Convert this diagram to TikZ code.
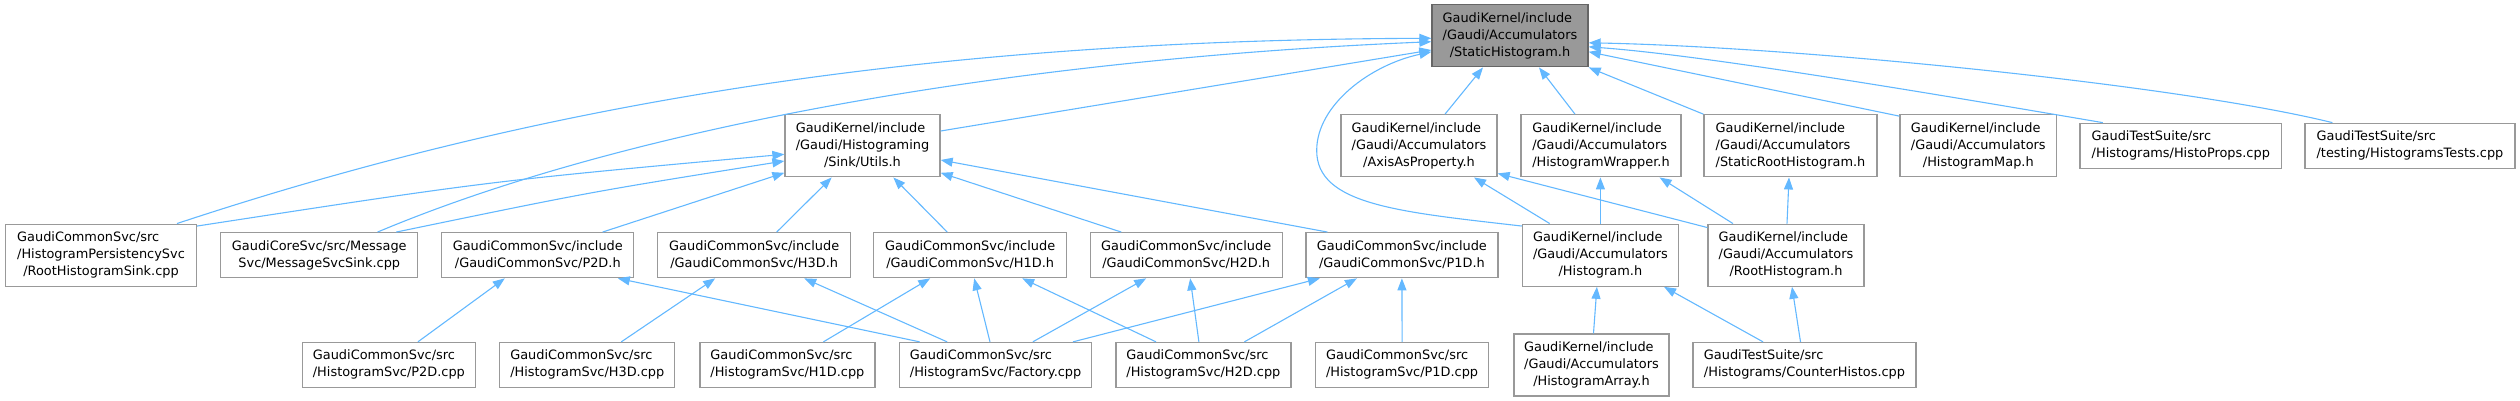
\documentclass[tikz,border=0pt]{standalone}
\usepackage{fontspec}
\newfontfamily\dv{DejaVu Sans}
\usetikzlibrary{arrows.meta,calc}
\definecolor{edgeblue}{HTML}{63B8FF}
\definecolor{boxborder}{HTML}{999999}
\definecolor{rootfill}{HTML}{999999}
\definecolor{rootborder}{HTML}{666666}
\newcommand{\lb}[2]{\begin{tabular}{@{}l@{}}#1\\\multicolumn{1}{@{}c@{}}{#2}\end{tabular}}
\tikzset{
  box/.style={draw=boxborder, fill=white, line width=1.3pt, inner sep=0pt,
    font=\dv\fontsize{12.9}{17}\selectfont},
  three/.style={box, minimum height=62pt},
  two/.style={box, minimum height=45pt},
  rootbox/.style={three, fill=rootfill, draw=rootborder},
  edge/.style={draw=edgeblue, line width=1.1pt, -{Triangle[length=12pt,width=9pt]}}
}
\begin{document}
\begin{tikzpicture}[x=1pt,y=-1pt]
\useasboundingbox (0,0) rectangle (2520,401);
% row 1
\node[rootbox, minimum width=156pt] (SH) at (1510,35.8) {\lb{GaudiKernel/include\\/Gaudi/Accumulators}{/StaticHistogram.h}};
% row 2
\node[three, minimum width=155pt] (Utils) at (862.5,145.8) {\lb{GaudiKernel/include\\/Gaudi/Histograming}{/Sink/Utils.h}};
\node[three, minimum width=156pt] (Axis) at (1419,145.8) {\lb{GaudiKernel/include\\/Gaudi/Accumulators}{/AxisAsProperty.h}};
\node[three, minimum width=160pt] (Wrapper) at (1601,145.8) {\lb{GaudiKernel/include\\/Gaudi/Accumulators}{/HistogramWrapper.h}};
\node[three, minimum width=173pt] (SRoot) at (1790.5,145.8) {\lb{GaudiKernel/include\\/Gaudi/Accumulators}{/StaticRootHistogram.h}};
\node[three, minimum width=156.5pt] (Map) at (1978.3,145.8) {\lb{GaudiKernel/include\\/Gaudi/Accumulators}{/HistogramMap.h}};
\node[two, minimum width=201.5pt] (Props) at (2180.8,145.8) {\lb{GaudiTestSuite/src}{/Histograms/HistoProps.cpp}};
\node[two, minimum width=210pt] (Tests) at (2410,145.8) {\lb{GaudiTestSuite/src}{/testing/HistogramsTests.cpp}};
% row 3
\node[three, minimum width=191pt] (RSink) at (101,255.2) {\lb{GaudiCommonSvc/src\\/HistogramPersistencySvc}{/RootHistogramSink.cpp}};
\node[two, minimum width=197pt] (MSink) at (319.3,255.2) {\lb{GaudiCoreSvc/src/Message}{Svc/MessageSvcSink.cpp}};
\node[two, minimum width=192pt] (P2Dh) at (537.8,255.2) {\lb{GaudiCommonSvc/include}{/GaudiCommonSvc/P2D.h}};
\node[two, minimum width=193pt] (H3Dh) at (754.2,255.2) {\lb{GaudiCommonSvc/include}{/GaudiCommonSvc/H3D.h}};
\node[two, minimum width=193pt] (H1Dh) at (970.2,255.2) {\lb{GaudiCommonSvc/include}{/GaudiCommonSvc/H1D.h}};
\node[two, minimum width=192pt] (H2Dh) at (1186.2,255.2) {\lb{GaudiCommonSvc/include}{/GaudiCommonSvc/H2D.h}};
\node[two, minimum width=192pt] (P1Dh) at (1401.9,255.2) {\lb{GaudiCommonSvc/include}{/GaudiCommonSvc/P1D.h}};
\node[three, minimum width=156pt] (Hist) at (1600.4,255.2) {\lb{GaudiKernel/include\\/Gaudi/Accumulators}{/Histogram.h}};
\node[three, minimum width=156pt] (RHist) at (1786,255.2) {\lb{GaudiKernel/include\\/Gaudi/Accumulators}{/RootHistogram.h}};
% row 4
\node[two, minimum width=172.5pt] (P2Dc) at (388.9,365) {\lb{GaudiCommonSvc/src}{/HistogramSvc/P2D.cpp}};
\node[two, minimum width=175pt] (H3Dc) at (587.3,365) {\lb{GaudiCommonSvc/src}{/HistogramSvc/H3D.cpp}};
\node[two, minimum width=175pt] (H1Dc) at (787.4,365) {\lb{GaudiCommonSvc/src}{/HistogramSvc/H1D.cpp}};
\node[two, minimum width=192pt] (Fact) at (995.6,365) {\lb{GaudiCommonSvc/src}{/HistogramSvc/Factory.cpp}};
\node[two, minimum width=175pt] (H2Dc) at (1203.4,365) {\lb{GaudiCommonSvc/src}{/HistogramSvc/H2D.cpp}};
\node[two, minimum width=173pt] (P1Dc) at (1402.1,365) {\lb{GaudiCommonSvc/src}{/HistogramSvc/P1D.cpp}};
\node[three, minimum width=155pt] (Arr) at (1591.5,365) {\lb{GaudiKernel/include\\/Gaudi/Accumulators}{/HistogramArray.h}};
\node[two, minimum width=223pt] (Counter) at (1804.5,365) {\lb{GaudiTestSuite/src}{/Histograms/CounterHistos.cpp}};

% edges to StaticHistogram.h
\draw[edge] ($(RSink.north)+(76,0)$) .. controls (520,110) and (900,40) .. ($(SH.west)+(0,2.5)$);
\draw[edge] ($(MSink.north)+(58.3,0)$) .. controls (620,130) and (1000,60) .. ($(SH.west)+(0,5.9)$);
\draw[edge] ($(Utils.east)+(0,-14.8)$) -- ($(SH.west)+(0,14.2)$);
\draw[edge] ($(Hist.north west)+(0,2.5)$) .. controls (1400,212) and (1316,205) .. (1316.7,150) .. controls (1317,105) and (1370,65) .. ($(SH.west)+(0,16)$);
\draw[edge] ($(Axis.north)+(26,0)$) -- ($(SH.south)+(-27,0)$);
\draw[edge] ($(Wrapper.north)+(-26,0)$) -- ($(SH.south)+(29,0)$);
\draw[edge] (SRoot.north west) -- (SH.south east);
\draw[edge] ($(Map.north west)+(0,2)$) -- ($(SH.east)+(0,16)$);
\draw[edge] ($(Props.north)+(-78,0)$) .. controls (1900,88) and (1700,55) .. ($(SH.east)+(0,11)$);
\draw[edge] ($(Tests.north)+(-77.6,0)$) .. controls (2180,85) and (1800,47) .. ($(SH.east)+(0,7)$);

% edges to Utils.h
\draw[edge] ($(RSink.north east)+(0,2.5)$) .. controls (490,181) .. ($(Utils.west)+(0,8.5)$);
\draw[edge] ($(MSink.north)+(77,0)$) .. controls (590,192) .. ($(Utils.west)+(0,15.2)$);
\draw[edge] ($(P2Dh.north)+(64.8,0)$) -- ($(Utils.west)+(0,27)$);
\draw[edge] ($(H3Dh.north)+(22.5,0)$) -- ($(Utils.south)+(-30.8,0)$);
\draw[edge] ($(H1Dh.north)+(-23,0)$) -- ($(Utils.south)+(30.8,0)$);
\draw[edge] ($(H2Dh.north)+(-65,0)$) -- ($(Utils.east)+(0,27)$);
\draw[edge] ($(P1Dh.north)+(-74.5,0)$) -- ($(Utils.east)+(0,14.2)$);

% edges to AxisAsProperty.h, HistogramWrapper.h, StaticRootHistogram.h
\draw[edge] ($(Hist.north)+(-50.7,0)$) -- ($(Axis.south)+(55,0)$);
\draw[edge] ($(RHist.north west)+(0,4)$) -- ($(Axis.south east)+(0,-4)$);
\draw[edge] (Hist.north) -- (Hist.north |- Wrapper.south);
\draw[edge] ($(RHist.north west)+(25.6,0)$) -- ($(Wrapper.south)+(58.6,0)$);
\draw[edge] ($(RHist.north)+(1,0)$) -- ($(SRoot.south)+(-1.5,0)$);

% edges to Histogram.h and RootHistogram.h
\draw[edge] ($(Arr.north)+(2,0)$) -- ($(Hist.south)+(-3.5,0)$);
\draw[edge] ($(Counter.north)+(-41.5,0)$) -- ($(Hist.south east)+(-15,0)$);
\draw[edge] ($(Counter.north)+(-4,0)$) -- ($(RHist.south)+(6,0)$);

% bottom row edges
\draw[edge] ($(P2Dc.north)+(29,0)$) -- ($(P2Dh.south)+(-33,0)$);
\draw[edge] ($(Fact.north west)+(20.7,0)$) -- ($(P2Dh.south)+(80,0)$);
\draw[edge] ($(H3Dc.north)+(34,0)$) -- ($(H3Dh.south)+(-39,0)$);
\draw[edge] ($(Fact.north)+(-48.5,0)$) -- ($(H3Dh.south)+(50,0)$);
\draw[edge] ($(H1Dc.north)+(36,0)$) -- ($(H1Dh.south)+(-40,0)$);
\draw[edge] ($(Fact.north)+(-5.6,0)$) -- ($(H1Dh.south)+(4,0)$);
\draw[edge] ($(H2Dc.north)+(-47.4,0)$) -- ($(H1Dh.south)+(52,0)$);
\draw[edge] ($(Fact.north)+(37.2,0)$) -- ($(H2Dh.south)+(-40,0)$);
\draw[edge] ($(H2Dc.north)+(-4.5,0)$) -- ($(H2Dh.south)+(4,0)$);
\draw[edge] ($(Fact.north)+(77.4,0)$) -- ($(P1Dh.south)+(-82,0)$);
\draw[edge] ($(H2Dc.north)+(41,0)$) -- ($(P1Dh.south)+(-45,0)$);
\draw[edge] (P1Dc.north) -- (P1Dh.south);
\end{tikzpicture}
\end{document}
